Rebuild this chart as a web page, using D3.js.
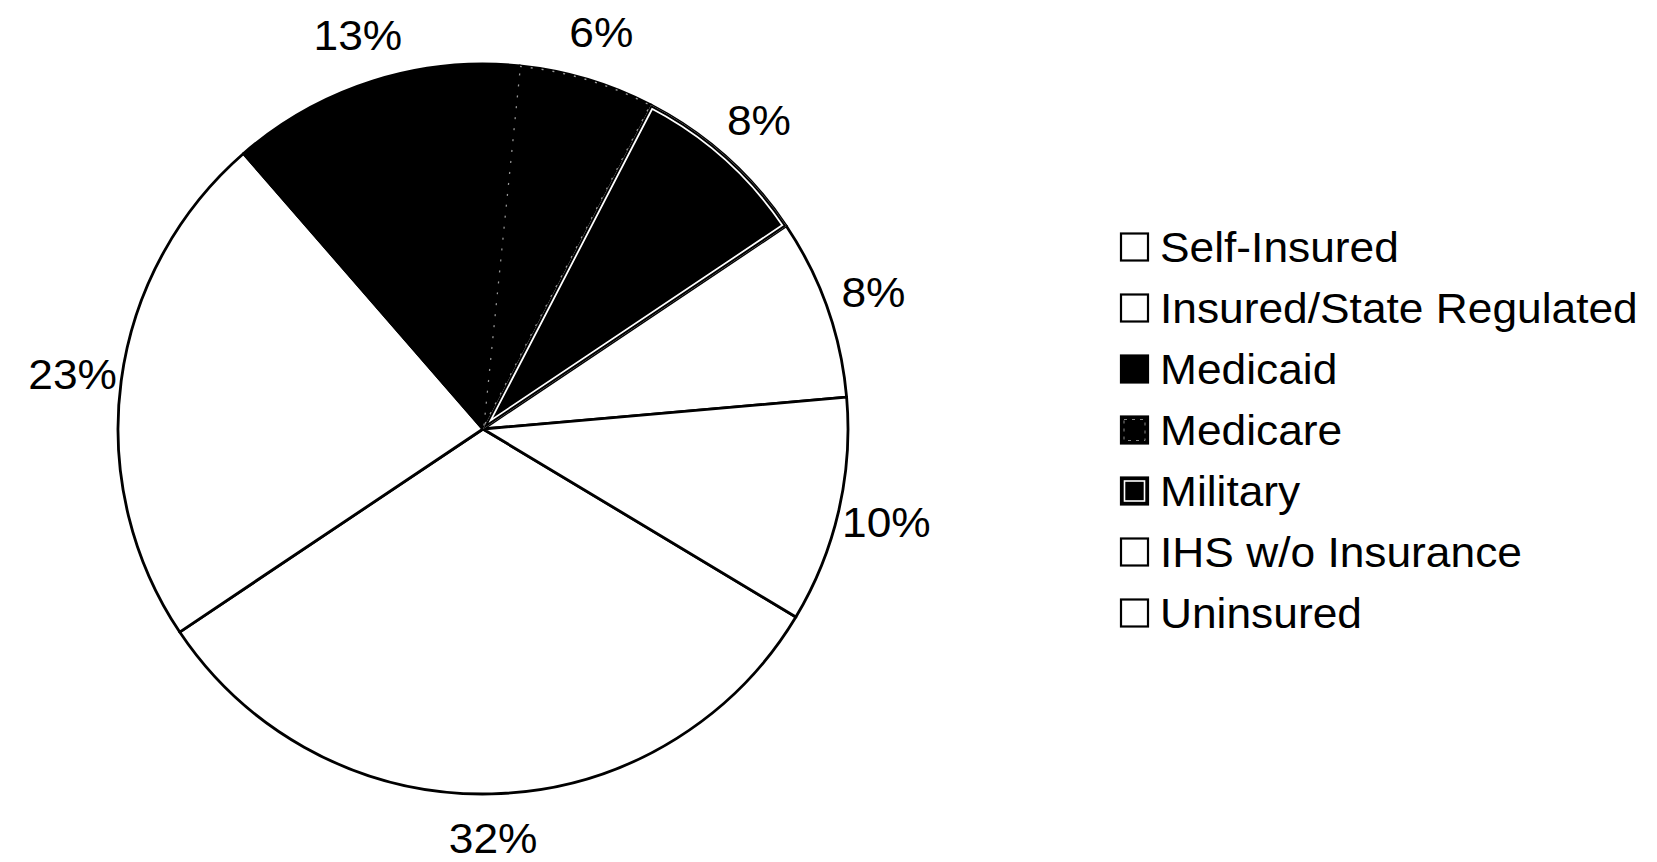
<!DOCTYPE html>
<html>
<head>
<meta charset="utf-8">
<script src="https://cdn.jsdelivr.net/npm/d3@7"></script>
<style>
  html, body { margin: 0; padding: 0; background: #fff; }
  svg { display: block; }
  text { font-family: "Liberation Sans", Arial, sans-serif; fill: #000; }
</style>
</head>
<body>
<svg id="chart" width="1657" height="862"></svg>
<script>
// Coverage categories and their shares (percent)
const categories = ["Self-Insured", "Insured/State Regulated", "Medicaid", "Medicare", "Military", "IHS w/o Insurance", "Uninsured"];
const shares = [32, 23, 13, 6, 8, 8, 10];
// Fill style per category
const fillStyles = ["white", "white", "black", "medicare", "military", "white", "white"];

const W = 1657, H = 862;
const cx = 483, cy = 429, radius = 365;
const labelRadius = 414;
const startDeg = 121;
const fontSize = 42, stretchX = 1.055;

const svg = d3.select("#chart");
const data = categories.map((c, i) => ({ name: c, value: shares[i], style: fillStyles[i] }));

const pie = d3.pie()
  .value(d => d.value)
  .sort(null)
  .startAngle(startDeg * Math.PI / 180)
  .endAngle(startDeg * Math.PI / 180 + 2 * Math.PI);

const arcs = pie(data);
const arc = d3.arc().innerRadius(0).outerRadius(radius);

const defs = svg.append("defs");
const g = svg.append("g").attr("transform", `translate(${cx},${cy})`);

// slices
arcs.forEach((a, i) => {
  const st = a.data.style;
  const path = arc(a);
  const fill = st === "white" ? "#fff" : "#000";
  g.append("path")
    .attr("d", path)
    .attr("fill", fill)
    .attr("stroke", "#000")
    .attr("stroke-width", 2.8)
    .attr("stroke-linejoin", "round");

  if (st === "military" || st === "medicare") {
    const id = "clip" + i;
    defs.append("clipPath").attr("id", id)
      .append("path").attr("d", path).attr("transform", `translate(${cx},${cy})`);
    const inner = svg.append("g").attr("clip-path", `url(#${id})`)
      .append("g").attr("transform", `translate(${cx},${cy})`);
    if (st === "military") {
      // white inset band inside the slice outline
      inner.append("path").attr("d", path).attr("fill", "none")
        .attr("stroke", "#fff").attr("stroke-width", 7.5);
      inner.append("path").attr("d", path).attr("fill", "none")
        .attr("stroke", "#000").attr("stroke-width", 4);
    } else {
      // faint dotted outline inside the slice
      inner.append("path").attr("d", path).attr("fill", "none")
        .attr("stroke", "#9a9a9a").attr("stroke-width", 2.5)
        .attr("stroke-dasharray", "2,9");
    }
  }
});

// percentage labels outside the pie, kept inside the canvas
const labelArc = d3.arc().innerRadius(labelRadius).outerRadius(labelRadius);
const maxLabelY = H - 24 - cy;
g.selectAll("text.pct")
  .data(arcs)
  .join("text")
  .attr("class", "pct")
  .attr("transform", d => {
    const [x, y] = labelArc.centroid(d);
    return `translate(${x},${Math.min(y, maxLabelY)}) scale(${stretchX},1)`;
  })
  .attr("text-anchor", "middle")
  .attr("dy", "0.36em")
  .attr("font-size", fontSize)
  .text(d => d.data.value + "%");

// legend
const legend = svg.append("g").attr("transform", "translate(1121,247)");
const rowH = 61, box = 27;
data.forEach((d, i) => {
  const row = legend.append("g").attr("transform", `translate(0,${i * rowH})`);
  const st = d.style;
  if (st === "white") {
    row.append("rect").attr("x", 0).attr("y", -box / 2).attr("width", box).attr("height", box)
      .attr("fill", "#fff").attr("stroke", "#000").attr("stroke-width", 2.2);
  } else if (st === "black") {
    row.append("rect").attr("x", 0).attr("y", -box / 2).attr("width", box).attr("height", box)
      .attr("fill", "#000").attr("stroke", "#000").attr("stroke-width", 2.2);
  } else if (st === "medicare") {
    row.append("rect").attr("x", 0).attr("y", -box / 2).attr("width", box).attr("height", box)
      .attr("fill", "#000").attr("stroke", "#000").attr("stroke-width", 2.2);
    row.append("rect").attr("x", 3).attr("y", -box / 2 + 3).attr("width", box - 6).attr("height", box - 6)
      .attr("fill", "none").attr("stroke", "#888").attr("stroke-width", 1)
      .attr("stroke-dasharray", "3,5");
  } else if (st === "military") {
    row.append("rect").attr("x", 0).attr("y", -box / 2).attr("width", box).attr("height", box)
      .attr("fill", "#000").attr("stroke", "#000").attr("stroke-width", 2.2);
    row.append("rect").attr("x", 3.5).attr("y", -box / 2 + 3.5).attr("width", box - 7).attr("height", box - 7)
      .attr("fill", "none").attr("stroke", "#fff").attr("stroke-width", 1.6);
  }
  row.append("text")
    .attr("transform", `translate(39,0) scale(${stretchX},1)`)
    .attr("dy", "0.36em")
    .attr("font-size", fontSize)
    .text(d.name);
});
</script>
</body>
</html>
